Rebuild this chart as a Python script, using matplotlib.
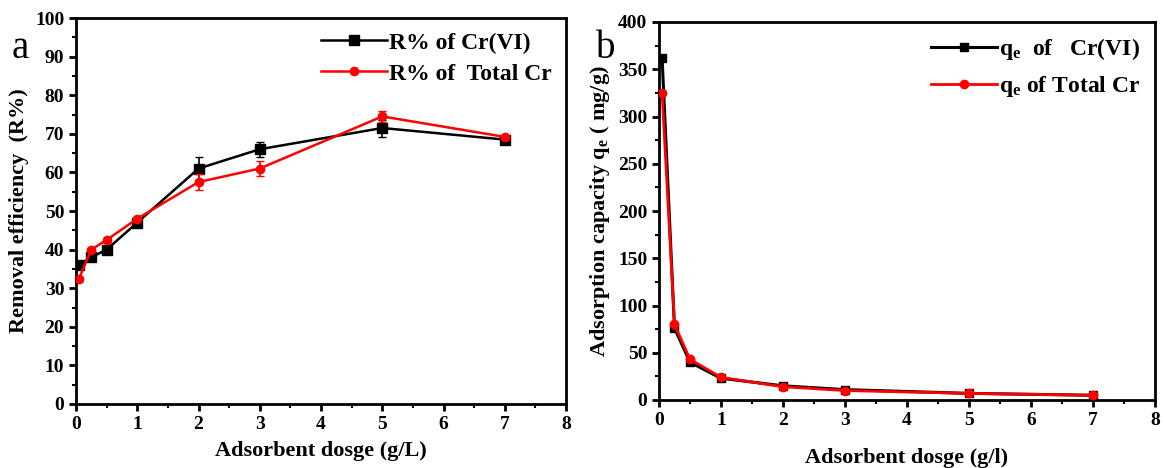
import matplotlib
matplotlib.use("Agg")
import matplotlib.pyplot as plt
from matplotlib.ticker import MultipleLocator

plt.rcParams['font.family'] = ['Liberation Serif', 'DejaVu Serif']
plt.rcParams['font.weight'] = 'bold'
plt.rcParams['mathtext.fontset'] = 'custom'
plt.rcParams['mathtext.rm'] = 'Liberation Serif:bold'
plt.rcParams['mathtext.it'] = 'Liberation Serif:bold'
plt.rcParams['mathtext.bf'] = 'Liberation Serif:bold'

dose = [0.05, 0.25, 0.5, 1, 2, 3, 5, 7]
r_cr6 = [36, 38, 40, 47, 61, 66, 71.5, 68.5]
r_cr6_err = [0.5, 0.5, 0.5, 0.5, 3, 2, 2.2, 0.5]
r_tot = [32.5, 40, 42.5, 48, 57.5, 61, 74.5, 69.2]
r_tot_err = [0.5, 0.5, 0.5, 0.5, 2, 2, 1.5, 0.5]

q_cr6 = [362, 76, 40, 23, 15, 11, 7, 5]
q_tot = [325, 80, 43, 24, 14, 10, 7, 5]

fig = plt.figure(figsize=(11.65, 4.68), dpi=100)
ax1 = fig.add_axes([76/1165, 1-404/468, 490/1165, 386/468])
ax2 = fig.add_axes([659/1165, 1-400/468, 496/1165, 378/468])

ax1.errorbar(dose, r_cr6, yerr=r_cr6_err, color='black', fmt='none',
             capsize=3, elinewidth=1.2, zorder=3)
ax1.plot(dose, r_cr6, color='black', marker='s', ms=6.5, lw=1.8, label='R% of Cr(VI)', zorder=3)
ax1.errorbar(dose, r_tot, yerr=r_tot_err, color='red', fmt='none',
             capsize=3, elinewidth=1.2, zorder=4)
ax1.plot(dose, r_tot, color='red', marker='o', ms=6, lw=1.8, label='R% of  Total Cr', zorder=4)
ax1.set_xlim(0, 8)
ax1.set_ylim(0, 100)
ax1.xaxis.set_major_locator(MultipleLocator(1))
ax1.xaxis.set_minor_locator(MultipleLocator(0.5))
ax1.yaxis.set_major_locator(MultipleLocator(10))
ax1.yaxis.set_minor_locator(MultipleLocator(5))
ax1.set_xlabel('Adsorbent dosge (g/L)', fontsize=16, fontweight='bold', labelpad=6)
ax1.set_ylabel('Removal efficiency  (R%)', fontsize=16, fontweight='bold', labelpad=4)
ax1.legend(loc='upper right', frameon=False, fontsize=17, handlelength=2.8,
           handletextpad=0.1, borderaxespad=0.2, labelspacing=0.4)
fig.text(12/1165, 1-58/468, 'a', fontsize=28, fontweight='normal')

ax2.plot(dose, q_cr6, color='black', marker='s', ms=6, lw=2.2, label=r'q$_e$  of   Cr(VI)', zorder=3)
ax2.plot(dose, q_tot, color='red', marker='o', ms=6, lw=2.0, label=r'q$_e$ of Total Cr', zorder=4)
ax2.set_xlim(0, 8)
ax2.set_ylim(0, 400)
ax2.xaxis.set_major_locator(MultipleLocator(1))
ax2.xaxis.set_minor_locator(MultipleLocator(0.5))
ax2.yaxis.set_major_locator(MultipleLocator(50))
ax2.yaxis.set_minor_locator(MultipleLocator(25))
ax2.set_xlabel('Adsorbent dosge (g/l)', fontsize=16, fontweight='bold', labelpad=14)
ax2.set_ylabel(r'Adsorption capacity q$_e$ ( mg/g)', fontsize=16, fontweight='bold', labelpad=4)
ax2.legend(loc='upper right', frameon=False, fontsize=17, handlelength=2.8,
           handletextpad=0.1, borderaxespad=0.2, labelspacing=0.5)
fig.text(596/1165, 1-58/468, 'b', fontsize=28, fontweight='normal')

for ax in (ax1, ax2):
    for s in ax.spines.values():
        s.set_linewidth(2)
    ax.tick_params(which='major', direction='out', length=5, width=2, labelsize=14)
    ax.tick_params(which='minor', direction='out', length=3, width=1.5)
    for lab in ax.get_xticklabels() + ax.get_yticklabels():
        lab.set_fontweight('bold')

fig.savefig('out.png', dpi=100)
